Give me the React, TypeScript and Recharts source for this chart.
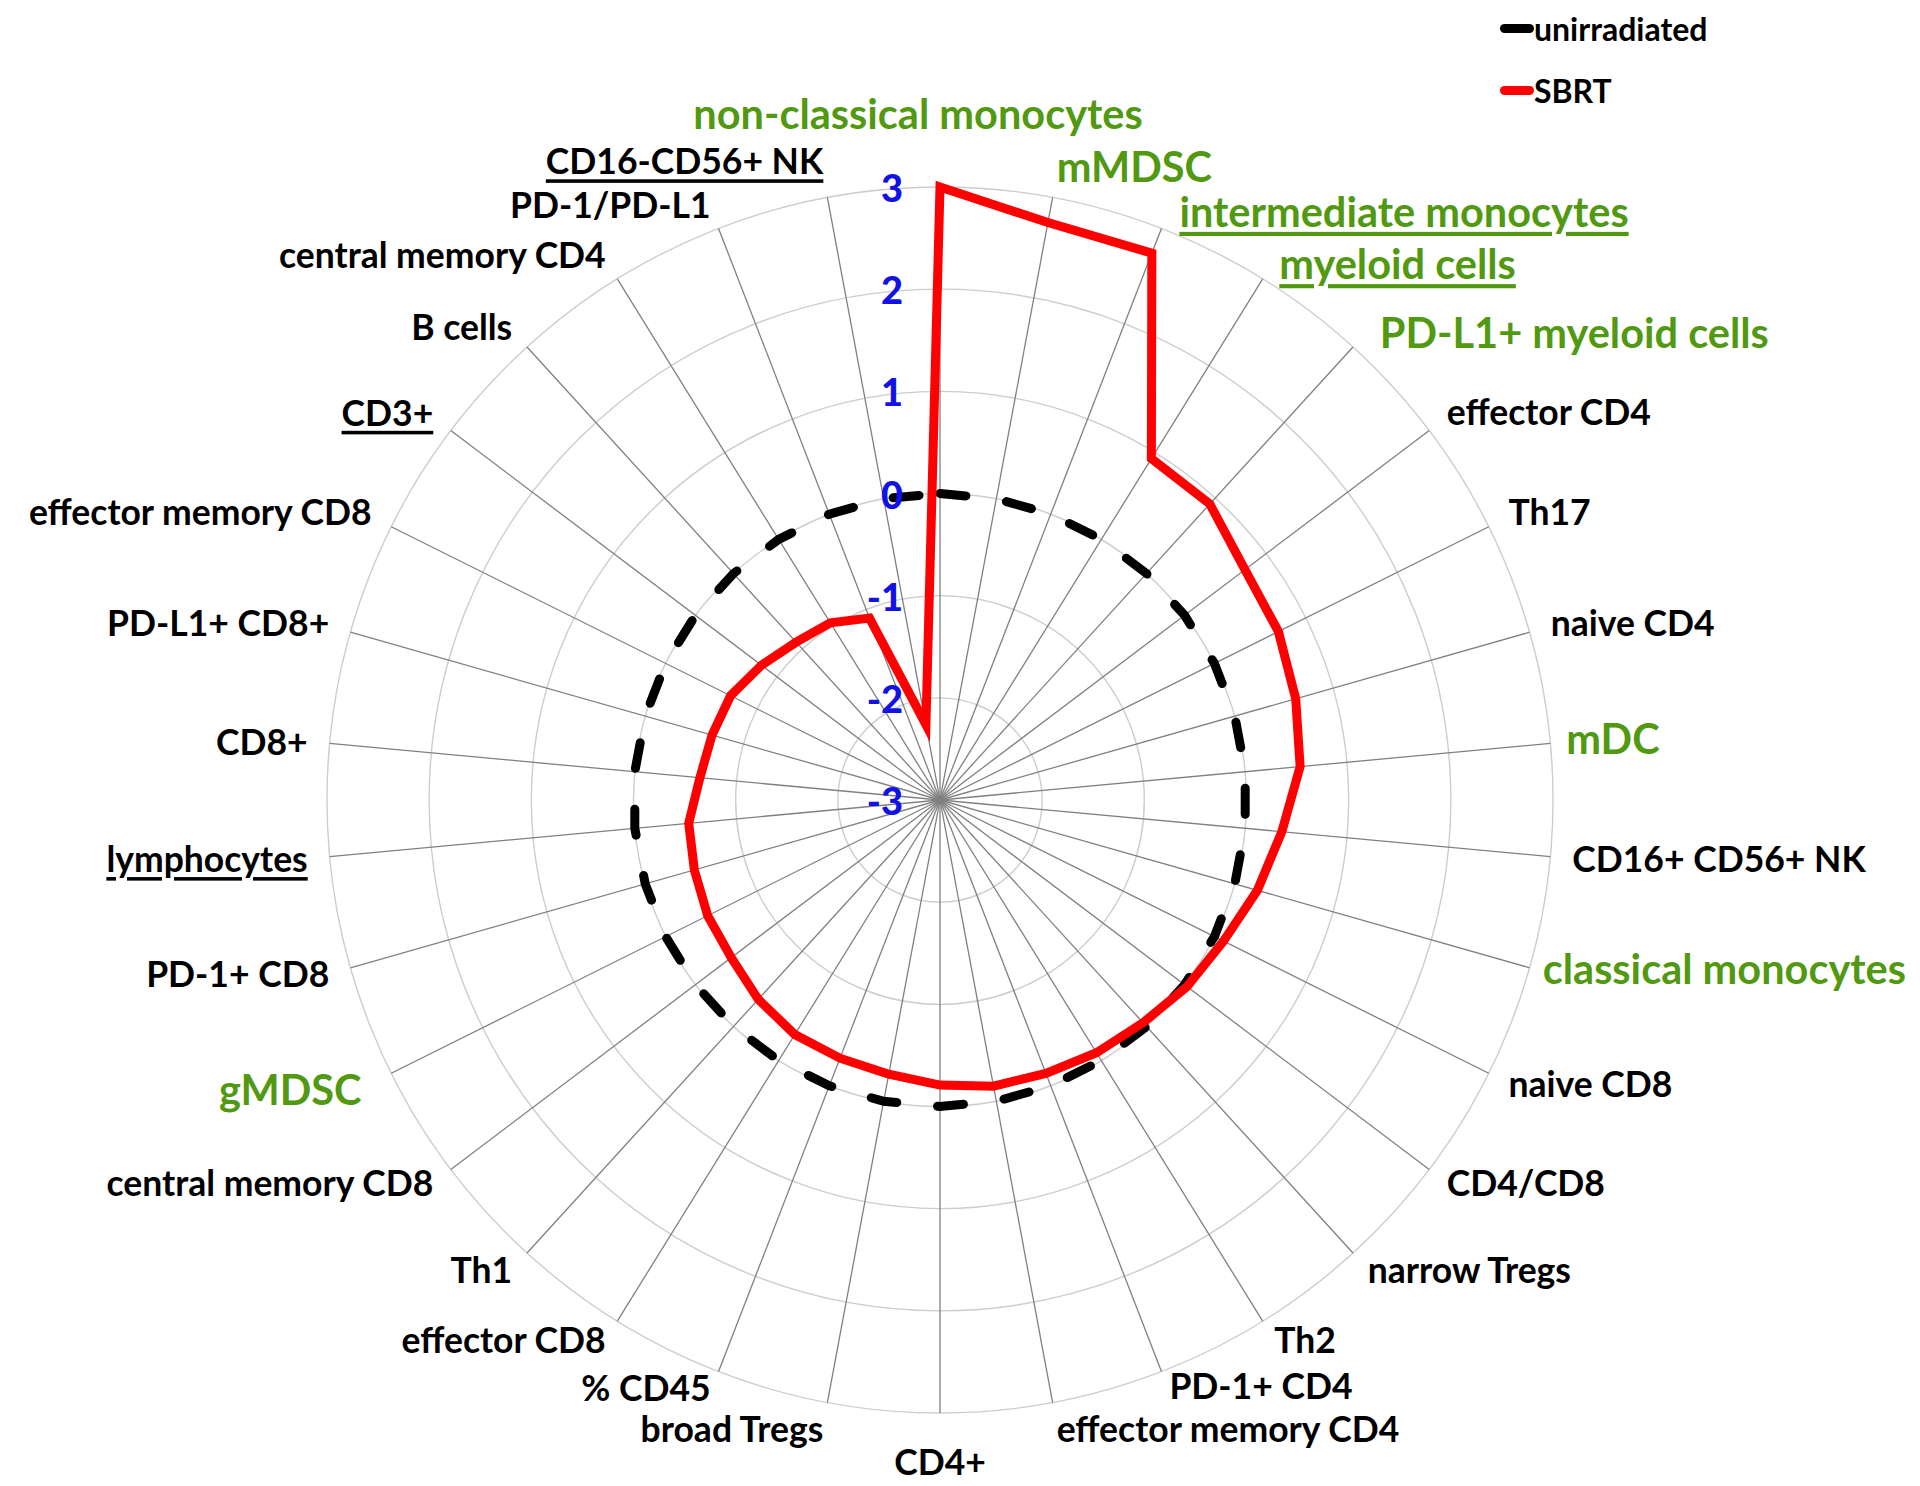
import React from 'react';
import {
  RadarChart,
  Radar,
  PolarGrid,
  PolarAngleAxis,
  PolarRadiusAxis,
  Legend,
} from 'recharts';

// categories clockwise from the top spoke
const categories = [
  'non-classical monocytes', 'mMDSC', 'intermediate monocytes', 'myeloid cells',
  'PD-L1+ myeloid cells', 'effector CD4', 'Th17', 'naive CD4', 'mDC', 'CD16+ CD56+ NK',
  'classical monocytes', 'naive CD8', 'CD4/CD8', 'narrow Tregs', 'Th2', 'PD-1+ CD4',
  'effector memory CD4', 'CD4+', 'broad Tregs', '% CD45', 'effector CD8', 'Th1',
  'central memory CD8', 'gMDSC', 'PD-1+ CD8', 'lymphocytes', 'CD8+', 'PD-L1+ CD8+',
  'effector memory CD8', 'CD3+', 'B cells', 'central memory CD4', 'PD-1/PD-L1', 'CD16-CD56+ NK',
];

const unirradiated = [
  0, 0, 0, 0, 0, 0, 0, 0, 0, 0, 0, 0, 0, 0, 0, 0, 0,
  0, 0, 0, 0, 0, 0, 0, 0, 0, 0, 0, 0, 0, 0, 0, 0, 0,
];

const sbrt = [
  3.0, 2.75, 2.74, 0.93, 0.92, 0.74, 0.7, 0.62, 0.54, 0.36, 0.23, 0.1, 0.03, -0.05, -0.09, -0.13, -0.15,
  -0.21, -0.27, -0.29, -0.3, -0.36, -0.44, -0.46, -0.5, -0.53, -0.64, -0.68, -0.71, -0.81, -0.91, -0.96, -1.09, -2.25,
];

const radiusTicks = [-3, -2, -1, 0, 1, 2, 3];
const legendOrder = ['unirradiated', 'SBRT'];

// label styling from the original figure
const myeloidLabels = [
  'non-classical monocytes', 'mMDSC', 'intermediate monocytes', 'myeloid cells',
  'PD-L1+ myeloid cells', 'mDC', 'classical monocytes', 'gMDSC',
];
const underlinedLabels = ['intermediate monocytes', 'myeloid cells', 'CD16-CD56+ NK', 'CD3+', 'lymphocytes'];

const data = categories.map((name, i) => ({
  name,
  unirradiated: unirradiated[i],
  SBRT: sbrt[i],
}));

const CX = 940;
const CY = 800;
const R = 613;
const LABEL_GAP = 22;
const FONT = 'Lato, "Noto Sans", sans-serif';
const GREEN = '#529912';
const BLUE = '#1212e6';

// Excel placed some labels a little off the plain spoke-end position
const labelNudge: Record<number, [number, number]> = {
  0: [-22, -31],
  1: [0, -10],
  2: [10, 3],
  3: [5, 3],
  4: [12, 1],
  5: [0, -6],
  6: [0, -5],
  7: [0, -4],
  8: [-6, -3],
  10: [-8, -6],
  15: [0, -7],
  16: [0, 4],
  17: [0, 9],
  18: [0, 4],
  19: [0, -5],
  23: [-10, 6],
  27: [0, -4],
  28: [0, -5],
  29: [0, -5],
  30: [0, -4],
  31: [0, -6],
  32: [0, -3],
  33: [0, -15],
};

const AngleTick = (props: any) => {
  const { x, y, payload } = props;
  const name = String(payload.value);
  const idx = categories.indexOf(name);
  const vx = x - CX;
  const vy = y - CY;
  const len = Math.hypot(vx, vy) || 1;
  const ux = vx / len;
  const uy = vy / len;
  const green = myeloidLabels.includes(name);
  const fontSize = green ? 41.5 : 35.5;
  const [nx, ny] = labelNudge[idx] ?? [0, 0];
  const px = CX + (R + LABEL_GAP) * ux + nx;
  let py = CY + (R + LABEL_GAP) * uy + ny;
  let anchor = 'middle';
  if (ux > 0.05) anchor = 'start';
  else if (ux < -0.05) anchor = 'end';
  else py += uy * fontSize * 0.5;

  return (
    <text
      x={px}
      y={py}
      textAnchor={anchor}
      dominantBaseline="central"
      fill={green ? GREEN : '#000'}
      fontSize={fontSize}
      fontWeight={700}
      fontFamily={FONT}
      textDecoration={underlinedLabels.includes(name) ? 'underline' : undefined}
    >
      {name}
    </text>
  );
};

const RadiusTick = (props: any) => {
  const { x, y, payload } = props;
  return (
    <text
      x={x - 37}
      y={y}
      textAnchor="end"
      dominantBaseline="central"
      fill={BLUE}
      fontSize={38}
      fontWeight={900}
      fontFamily={FONT}
    >
      {payload.value}
    </text>
  );
};

const LegendBox = (props: any) => {
  const items = [...(props.payload || [])].sort(
    (a: any, b: any) => legendOrder.indexOf(a.value) - legendOrder.indexOf(b.value),
  );
  return (
    <div style={{ position: 'relative', width: 320, height: 120 }}>
      {items.map((entry: any, i: number) => (
        <div
          key={entry.value}
          style={{
            position: 'absolute',
            left: 0,
            top: 8 + i * 62,
            height: 40,
            display: 'flex',
            alignItems: 'center',
          }}
        >
          <span
            style={{
              display: 'inline-block',
              width: 34,
              height: 9,
              borderRadius: 5,
              background: entry.color,
            }}
          />
          <span style={{ font: `700 32px ${FONT}`, color: '#000', whiteSpace: 'nowrap' }}>{entry.value}</span>
        </div>
      ))}
    </div>
  );
};

export default function App() {
  return (
    <div style={{ position: 'absolute', left: 0, top: 0, width: 1920, height: 1486, background: '#fff' }}>
      <RadarChart
        width={1920}
        height={1486}
        data={data}
        cx={CX}
        cy={CY}
        outerRadius={R}
        margin={{ top: 0, right: 0, bottom: 0, left: 0 }}
      >
        <PolarGrid gridType="circle" radialLines={false} stroke="#cdcdcd" strokeWidth={1.4} />
        <PolarGrid gridType="circle" polarRadius={[]} stroke="#808080" strokeWidth={1.3} />
        <PolarAngleAxis dataKey="name" tick={AngleTick} tickLine={false} axisLine={false} />
        <PolarRadiusAxis
          angle={90}
          type="number"
          domain={[-3, 3]}
          ticks={radiusTicks as any}
          tickCount={7}
          tick={RadiusTick}
          axisLine={false}
          tickLine={false}
        />
        <Radar
          name="unirradiated"
          dataKey="unirradiated"
          stroke="#000"
          strokeWidth={9}
          strokeDasharray="26 41"
          strokeLinecap="round"
          fill="none"
          fillOpacity={0}
          dot={false}
          isAnimationActive={false}
        />
        <Radar
          name="SBRT"
          dataKey="SBRT"
          stroke="#ff0000"
          strokeWidth={9}
          strokeLinejoin="miter"
          fill="none"
          fillOpacity={0}
          dot={false}
          isAnimationActive={false}
        />
        <Legend
          layout="vertical"
          align="right"
          verticalAlign="top"
          wrapperStyle={{ left: 1500, top: 0, right: 'auto', width: 320 }}
          content={LegendBox}
        />
      </RadarChart>
    </div>
  );
}
